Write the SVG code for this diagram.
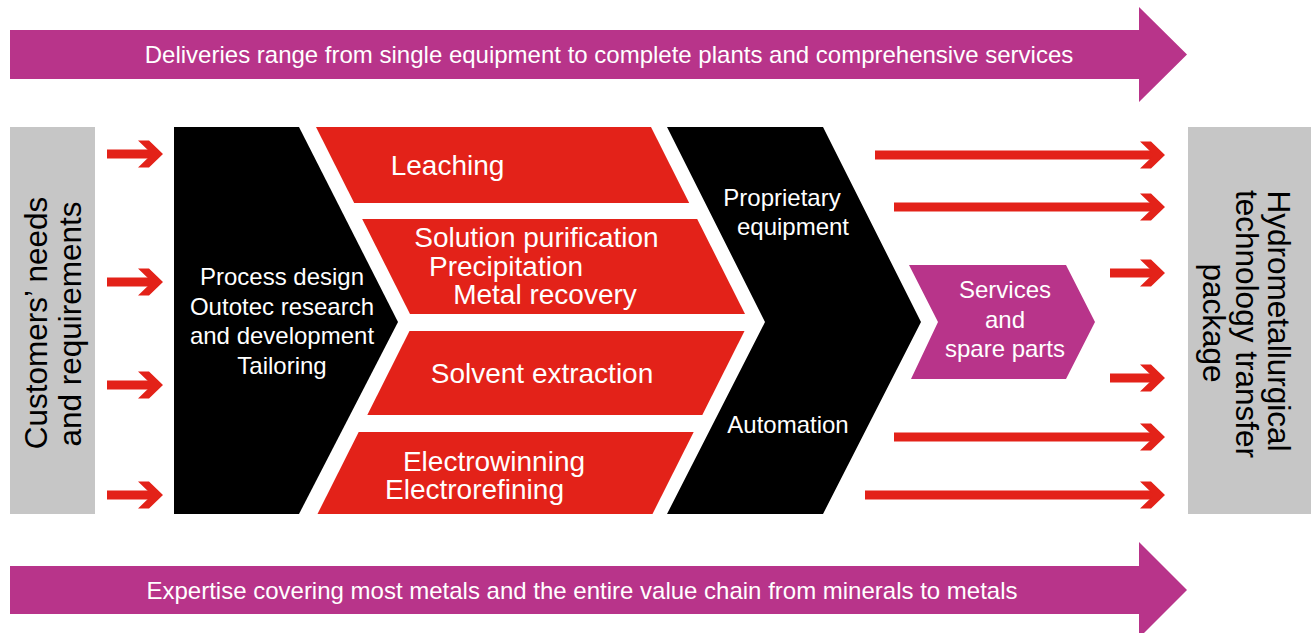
<svg xmlns="http://www.w3.org/2000/svg" xmlns:xlink="http://www.w3.org/1999/xlink" width="1313" height="633" viewBox="0 0 1313 633">
<defs>
<style>
.mag{fill:#B8348A}
.red{fill:#E32219}
.blk{fill:#000000}
.gry{fill:#C6C6C6}
.t{font-family:"Liberation Sans",Arial,sans-serif;fill:#FFFFFF;text-anchor:middle}
.ban{font-size:24px}
.rt{font-size:28px}
.bt{font-size:24px}
.side{font-family:"Liberation Sans",Arial,sans-serif;fill:#000000;font-size:31.5px;text-anchor:middle}
.shaft{stroke:#E32219;stroke-width:9;fill:none}
</style>
<path id="ah" d="M-25,-13.5 L-14,-13.5 L0,0 L-14,13.5 L-25,13.5 L-11,0 Z" fill="#E32219"/>
</defs>
<rect width="1313" height="633" fill="#FFFFFF"/>

<g id="banner-top">
<polygon class="mag" points="10,30 1139,30 1139,7 1187,54.5 1139,102 1139,79 10,79"/>
<text class="t ban" x="609" y="62.5">Deliveries range from single equipment to complete plants and comprehensive services</text>
</g>

<g id="banner-bottom">
<polygon class="mag" points="10,566 1139,566 1139,542 1187,590 1139,638 1139,614 10,614"/>
<text class="t ban" x="582" y="599">Expertise covering most metals and the entire value chain from minerals to metals</text>
</g>

<g id="customers">
<rect class="gry" x="10" y="127" width="85" height="387"/>
<text class="side" transform="translate(47,323) rotate(-90)">Customers’ needs</text>
<text class="side" transform="translate(81,324) rotate(-90)">and requirements</text>
</g>

<g id="package">
<rect class="gry" x="1188" y="127" width="123" height="387"/>
<text class="side" transform="translate(1268,321) rotate(90)">Hydrometallurgical</text>
<text class="side" transform="translate(1236,324) rotate(90)">technology transfer</text>
<text class="side" transform="translate(1203,323) rotate(90)">package</text>
</g>

<g id="process-design">
<polygon class="blk" points="174,127 299,127 398,322 299,514 174,514"/>
<text class="t bt" x="282" y="285">Process design</text>
<text class="t bt" x="282" y="314.5">Outotec research</text>
<text class="t bt" x="282" y="344">and development</text>
<text class="t bt" x="282" y="373.5">Tailoring</text>
</g>

<g id="leaching">
<polygon class="red" points="316,127 651,127 689.2,203 354.2,203"/>
<text class="t rt" x="447.5" y="175">Leaching</text>
</g>

<g id="purification">
<polygon class="red" points="362.2,219 697.2,219 745,314 410,314"/>
<text class="t rt" x="536.5" y="247">Solution purification</text>
<text class="t rt" x="506" y="276">Precipitation</text>
<text class="t rt" x="545" y="304">Metal recovery</text>
</g>

<g id="solvent-extraction">
<polygon class="red" points="409.5,331 744.5,331 702.3,415 367.3,415"/>
<text class="t rt" x="542" y="383">Solvent extraction</text>
</g>

<g id="electrowinning">
<polygon class="red" points="358.7,432 693.7,432 652.5,514 317.5,514"/>
<text class="t rt" x="494" y="471">Electrowinning</text>
<text class="t rt" x="474.5" y="499">Electrorefining</text>
</g>

<g id="equipment">
<polygon class="blk" points="667,127 823,127 921,322 823,514 667,514 765,322"/>
<text class="t bt" x="782" y="206">Proprietary</text>
<text class="t bt" x="793" y="235">equipment</text>
<text class="t bt" x="788" y="433">Automation</text>
</g>

<g id="services">
<polygon class="mag" points="909,265 1066,265 1095,322 1066,379 911,379 938,322"/>
<text class="t bt" x="1005" y="298">Services</text>
<text class="t bt" x="1005" y="328">and</text>
<text class="t bt" x="1005" y="357">spare parts</text>
</g>

<g id="connectors">
<path class="shaft" d="M107,154H156 M107,282H156 M107,385H156 M107,495H156"/>
<use xlink:href="#ah" x="163" y="154"/>
<use xlink:href="#ah" x="163" y="282"/>
<use xlink:href="#ah" x="163" y="385"/>
<use xlink:href="#ah" x="163" y="495"/>
<path class="shaft" d="M875,155H1158 M894,207H1158 M1110,273H1158 M1110,378H1158 M894,437H1158 M865,495H1158"/>
<use xlink:href="#ah" x="1165" y="155"/>
<use xlink:href="#ah" x="1165" y="207"/>
<use xlink:href="#ah" x="1165" y="273"/>
<use xlink:href="#ah" x="1165" y="378"/>
<use xlink:href="#ah" x="1165" y="437"/>
<use xlink:href="#ah" x="1165" y="495"/>
</g>
</svg>
